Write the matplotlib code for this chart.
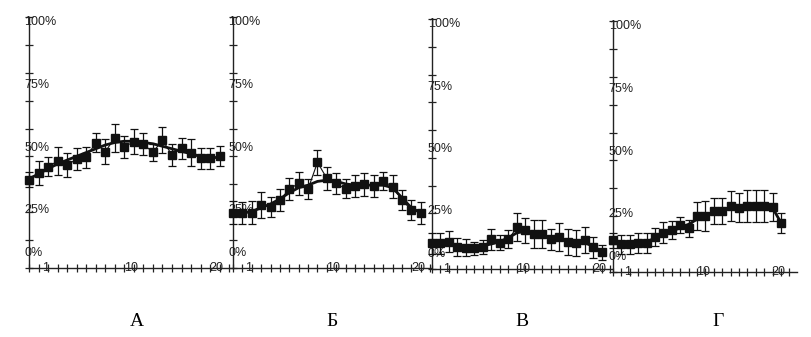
import numpy as np
from matplotlib import pyplot as plt

# session number on the x axis
x = np.arange(21)

# panel А
a_mean = [35.2, 37.7, 40.4, 42.6, 41.0, 43.4, 44.1, 49.9, 46.3, 51.9, 48.3,
          50.3, 49.3, 46.1, 51.0, 45.0, 47.7, 45.9, 43.7, 43.7, 44.6]
a_err = [3.0, 4.8, 3.7, 5.6, 4.8, 4.5, 4.3, 3.7, 5.0, 5.5, 4.3,
         5.0, 4.3, 3.5, 5.1, 4.5, 4.2, 5.3, 4.3, 4.3, 4.0]
a_fit = [35.5, 37.5, 39.5, 41.5, 43.0, 44.5, 46.0, 47.5, 49.0, 50.0, 50.5,
         50.5, 50.0, 49.5, 48.5, 47.5, 46.5, 45.5, 44.5, 44.0, 44.0]

# panel Б
b_mean = [22.0, 22.0, 22.0, 25.1, 24.4, 27.1, 31.5, 33.7, 31.5, 42.1, 35.7,
          33.7, 31.5, 32.7, 33.3, 32.7, 34.7, 32.4, 27.1, 23.1, 22.0]
b_err = [4.6, 4.3, 4.5, 5.0, 4.0, 4.3, 4.3, 4.6, 4.0, 5.1, 4.6,
         4.2, 3.8, 4.3, 4.5, 4.3, 3.5, 4.6, 3.8, 4.0, 4.3]
b_fit = [22.0, 22.0, 22.5, 24.0, 25.5, 27.5, 30.0, 32.0, 33.0, 34.5, 35.0,
         34.5, 33.5, 33.0, 33.0, 33.0, 33.0, 32.0, 28.0, 24.0, 22.0]

# panel В
c_mean = [10.3, 10.4, 10.9, 8.9, 8.6, 8.3, 8.9, 11.9, 10.5, 11.9, 16.7,
          15.6, 14.0, 14.0, 11.9, 12.9, 10.9, 10.4, 11.6, 8.7, 6.7]
c_err = [4.2, 4.2, 4.2, 3.5, 3.5, 2.7, 2.7, 4.1, 3.0, 3.6, 5.6,
         5.0, 5.6, 5.6, 4.3, 5.6, 5.3, 5.3, 5.3, 4.3, 3.0]
c_fit = [10.3, 10.3, 10.0, 9.5, 9.0, 9.0, 9.3, 10.0, 11.0, 12.5, 14.5,
         15.0, 14.5, 13.5, 12.5, 12.0, 11.5, 11.0, 10.5, 9.0, 7.0]

# panel Г
d_mean = [12.7, 11.0, 11.0, 11.7, 11.7, 13.8, 15.7, 16.7, 18.7, 17.4, 22.3,
          22.3, 24.3, 24.3, 26.3, 25.6, 26.3, 26.3, 26.3, 25.8, 19.6]
d_err = [3.0, 3.7, 3.7, 4.0, 4.0, 3.6, 4.1, 3.7, 3.3, 3.5, 5.6,
         6.0, 5.3, 5.2, 6.0, 5.8, 6.3, 6.4, 6.3, 5.6, 4.0]
d_fit = [12.5, 11.5, 11.0, 11.5, 12.0, 13.5, 15.0, 16.5, 17.5, 19.0, 21.0,
         22.5, 24.0, 25.0, 25.5, 26.0, 26.0, 26.0, 26.0, 25.5, 19.6]

letters = ['А', 'Б', 'В', 'Г']
y_labels = [0, 25, 50, 75, 100]
x_labels = [1, 10, 20]

W, H = 811, 337
# pixel layout of each panel: left, right, bottom, top
boxes = [(29, 233, 268, 17), (233, 432, 268, 17),
         (432, 613, 269, 19), (613, 797, 272, 21)]
xmax = [21.4, 21.2, 21.3, 21.9]
letter_x = [137, 332, 522, 718]
x_shift = [0.7, 0.7, -0.3]

fig = plt.figure(figsize=(W / 100, H / 100), dpi=100)

series = [(a_mean, a_err, a_fit), (b_mean, b_err, b_fit),
          (c_mean, c_err, c_fit), (d_mean, d_err, d_fit)]

for i, (mean, err, fit) in enumerate(series):
    l, r, b, t = boxes[i]
    ax = fig.add_axes([l / W, 1 - b / H, (r - l) / W, (b - t) / H])
    ax.set_xlim(0, xmax[i])
    ax.set_ylim(0, 100)
    for s in ['top', 'right']:
        ax.spines[s].set_visible(False)
    for s in ['left', 'bottom']:
        ax.spines[s].set_linewidth(1.0)
        ax.spines[s].set_color('#222222')

    ax.set_xticks(np.arange(0, int(xmax[i]) + 1))
    ax.set_yticks(np.linspace(0, 100, 10))
    ax.set_xticklabels([])
    ax.set_yticklabels([])
    ax.tick_params(direction='inout', length=6, width=0.9, color='#222222')

    # tick labels sit on the axes, as in the original figure
    for v in y_labels:
        yy = 6 if v == 0 else v - 2
        ax.text(-0.5, yy, f'{v}%', ha='left', va='center', fontsize=9,
                family='Liberation Sans', color='#222222', zorder=1)
    for v, sh in zip(x_labels, x_shift):
        ax.text(v + sh, 0, str(v), ha='center', va='center', fontsize=9,
                family='Liberation Sans', color='#222222', zorder=1,
                clip_on=False)

    ax.plot(x, mean, color='#111111', lw=0.8, zorder=3, clip_on=False)
    ax.plot(x, fit, color='#111111', lw=2.0, zorder=3, clip_on=False)
    ax.errorbar(x, mean, yerr=err, fmt='s', color='#111111', ms=6,
                elinewidth=0.9, capsize=3, capthick=0.9, zorder=4,
                clip_on=False)

    fig.text(letter_x[i] / W, 1 - 322 / H, letters[i], ha='center',
             va='center', fontsize=14, family='Liberation Serif')

fig.savefig('out.png', dpi=100)
